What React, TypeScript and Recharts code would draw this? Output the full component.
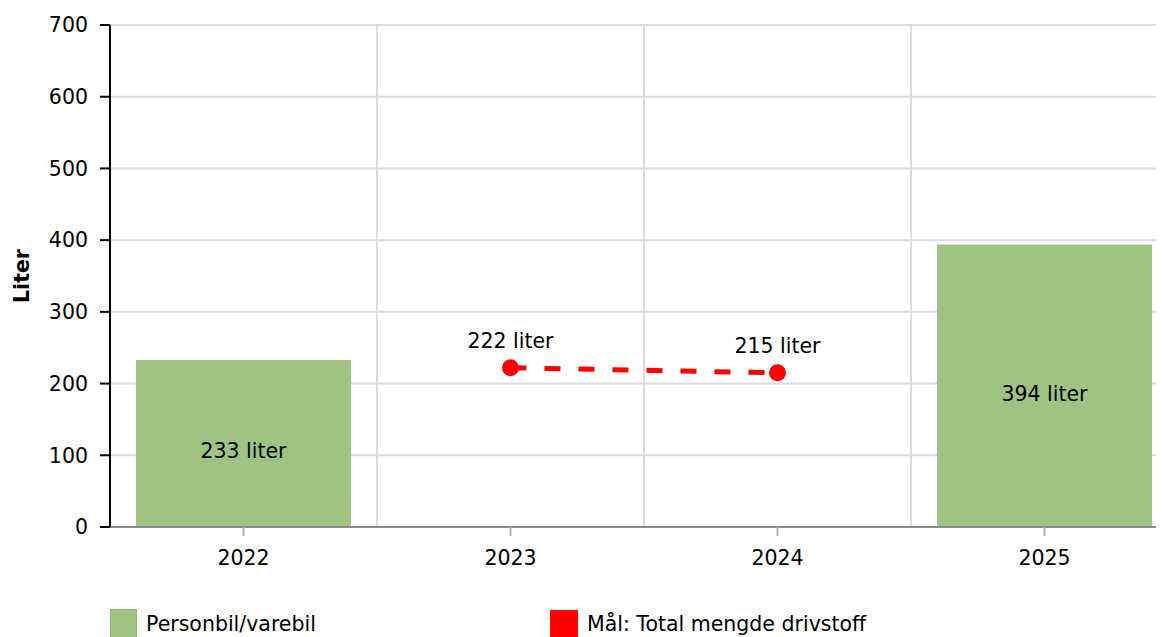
import React from 'react';
import { ComposedChart, Bar, Line, XAxis, YAxis, CartesianGrid, Legend, LabelList } from 'recharts';

const categories = ['2022', '2023', '2024', '2025'];
const personbil = [233, null, null, 394];
const totalMaal = [null, 222, 215, null];
const yTicks = [0, 100, 200, 300, 400, 500, 600, 700];

const GREEN = '#9dc482';
const RED = '#ff0000';
const FONT = '"DejaVu Sans", Verdana, sans-serif';
const FS = 20.5;

const data = categories.map((year, i) => ({
  year,
  personbil: personbil[i],
  maal: totalMaal[i],
}));

// label sits a little below the bar's middle, like the original
const BarLabel = (props: any) => {
  const { x, y, width, height, value } = props;
  if (value == null) return null;
  return (
    <text x={x + width / 2} y={y + height / 2 + 15} textAnchor="middle" fontSize={FS} fill="#000" fontFamily={FONT}>
      {`${value} liter`}
    </text>
  );
};

const DotLabel = (props: any) => {
  const { x, y, value } = props;
  if (value == null) return null;
  return (
    <text x={x} y={y - 20} textAnchor="middle" fontSize={FS} fill="#000" fontFamily={FONT}>
      {`${value} liter`}
    </text>
  );
};

const YLabel = (props: any) => {
  const { viewBox } = props;
  const cx = viewBox.x + 21;
  const cy = viewBox.y + viewBox.height / 2;
  return (
    <text
      x={cx}
      y={cy}
      transform={`rotate(-90, ${cx}, ${cy})`}
      textAnchor="middle"
      fontSize={FS}
      fontWeight="bold"
      fill="#000"
      fontFamily={FONT}
    >
      Liter
    </text>
  );
};

const LegendBox = () => (
  <div style={{ display: 'flex', fontFamily: FONT, fontSize: FS, color: '#000' }}>
    <div style={{ display: 'flex', alignItems: 'center', width: 440 }}>
      <span style={{ width: 25, height: 27, background: GREEN, border: '1px solid #8dbb6e', marginRight: 9 }} />
      <span>Personbil/varebil</span>
    </div>
    <div style={{ display: 'flex', alignItems: 'center' }}>
      <span style={{ width: 28, height: 28, background: RED, marginRight: 9 }} />
      <span>Mål: Total mengde drivstoff</span>
    </div>
  </div>
);

// vertical grid lines between the categories, not through the ticks
const bandBoundaries = ({ offset }: any) => {
  const n = categories.length;
  const out: number[] = [];
  for (let i = 1; i < n; i++) out.push(offset.left + (i * offset.width) / n);
  return out;
};

export default function App() {
  return (
    <div style={{ width: 1156, height: 629, overflow: 'hidden', fontFamily: FONT }}>
      <ComposedChart
        width={1171}
        height={660}
        data={data}
        margin={{ top: 17, right: 1, left: 0, bottom: 81 }}
        barSize={215}
      >
        <CartesianGrid stroke="#dcdcdc" strokeWidth={2} verticalCoordinatesGenerator={bandBoundaries} />
        <XAxis
          dataKey="year"
          height={60}
          axisLine={{ stroke: '#8c8c8c', strokeWidth: 2 }}
          tickLine={{ stroke: '#b0b0b0', strokeWidth: 2 }}
          tickSize={9}
          tickMargin={14}
          tick={{ fill: '#000', fontSize: FS, fontFamily: FONT }}
        />
        <YAxis
          width={102}
          domain={[0, 700]}
          ticks={yTicks}
          interval={0}
          axisLine={{ stroke: '#000', strokeWidth: 2 }}
          tickLine={{ stroke: '#000', strokeWidth: 2 }}
          tickSize={10}
          tickMargin={12}
          tick={{ fill: '#000', fontSize: FS, fontFamily: FONT }}
          label={<YLabel />}
        />
        <Legend
          layout="horizontal"
          verticalAlign="middle"
          content={<LegendBox />}
          wrapperStyle={{ top: 601, left: 102, width: 1000 }}
        />
        <Bar dataKey="personbil" fill={GREEN} isAnimationActive={false}>
          <LabelList dataKey="personbil" content={<BarLabel />} />
        </Bar>
        <Line
          dataKey="maal"
          stroke={RED}
          strokeWidth={5}
          strokeDasharray="16 18"
          dot={{ r: 8.5, fill: RED, stroke: 'none' }}
          activeDot={false}
          isAnimationActive={false}
        >
          <LabelList dataKey="maal" content={<DotLabel />} />
        </Line>
      </ComposedChart>
    </div>
  );
}
